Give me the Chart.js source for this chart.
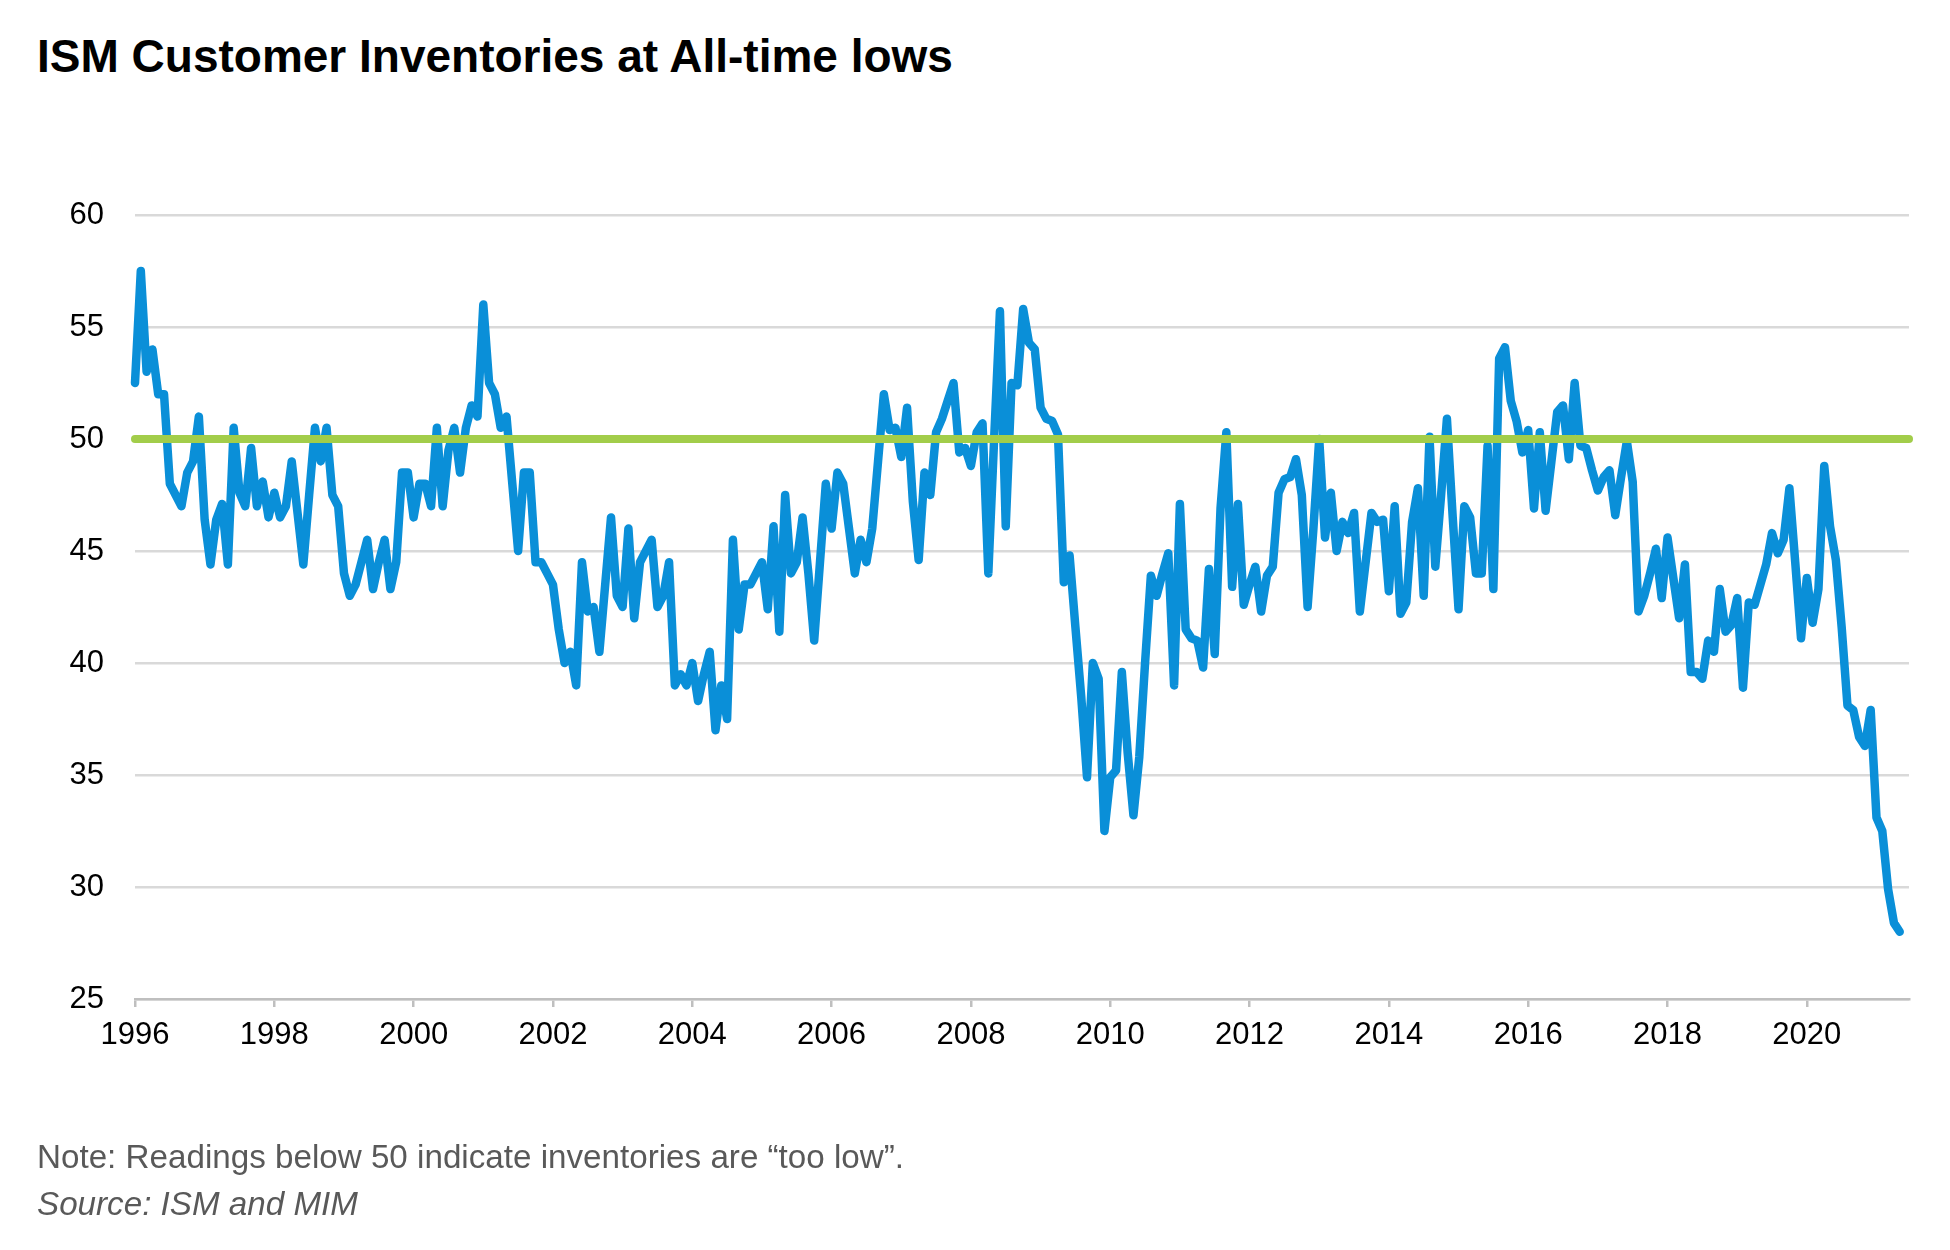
<!DOCTYPE html>
<html>
<head>
<meta charset="utf-8">
<script src="https://cdn.jsdelivr.net/npm/chart.js@4.4.1/dist/chart.umd.min.js"></script>
<style>
  body { margin: 0; background: #fff; width: 1950px; height: 1250px; position: relative; overflow: hidden;
         font-family: "Liberation Sans", Arial, sans-serif; }
  #title { position: absolute; left: 37px; top: 33px; font-size: 46px; line-height: 1; font-weight: bold; color: #000; }
  #note { position: absolute; left: 37px; top: 1140px; font-size: 33.2px; line-height: 1; color: #595959; }
  #source { position: absolute; left: 37px; top: 1187px; font-size: 33.2px; line-height: 1; color: #595959; font-style: italic; }
  canvas { position: absolute; left: 0; top: 0; }
</style>
</head>
<body>
<div id="title">ISM Customer Inventories at All-time lows</div>
<canvas id="myChart" width="1950" height="1250"></canvas>
<div id="note">Note: Readings below 50 indicate inventories are “too low”.</div>
<div id="source">Source: ISM and MIM</div>
<script>
// monthly ISM customers' inventories index, Jan 1996 .. May 2021
const customerInventories = [
  52.5, 57.5, 53, 54, 52, 52, 48, 47.5, 47, 48.5, 49, 51,            // 1996
  46.4, 44.4, 46.4, 47.1, 44.4, 50.5, 47.6, 47, 49.6, 47, 48.1, 46.5, // 1997
  47.6, 46.5, 47, 49, 46.7, 44.4, 47.5, 50.5, 49, 50.5, 47.5, 47,     // 1998
  44, 43, 43.5, 44.5, 45.5, 43.3, 44.5, 45.5, 43.3, 44.5, 48.5, 48.5, // 1999
  46.5, 48, 48, 47, 50.5, 47, 49.5, 50.5, 48.5, 50.5, 51.5, 51,       // 2000
  56, 52.5, 52, 50.5, 51, 48, 45, 48.5, 48.5, 44.5, 44.5, 44,         // 2001
  43.5, 41.5, 40, 40.5, 39, 44.5, 42.3, 42.5, 40.5, 43.5, 46.5, 43,   // 2002
  42.5, 46, 42, 44.5, 45, 45.5, 42.5, 43, 44.5, 39, 39.5, 39,         // 2003
  40, 38.3, 39.5, 40.5, 37, 39, 37.5, 45.5, 41.5, 43.5, 43.5, 44,     // 2004
  44.5, 42.4, 46.1, 41.4, 47.5, 44, 44.5, 46.5, 44, 41, 44.5, 48,     // 2005
  46, 48.5, 48, 46, 44, 45.5, 44.5, 46, 49, 52, 50.4, 50.5,           // 2006
  49.2, 51.4, 47.2, 44.6, 48.5, 47.5, 50.3, 50.9, 51.7, 52.5, 49.4, 49.6, // 2007
  48.8, 50.3, 50.7, 44, 50, 55.7, 46.1, 52.5, 52.4, 55.8, 54.3, 54,   // 2008
  51.4, 50.9, 50.8, 50.2, 43.6, 44.8, 41.6, 38.5, 34.9, 40, 39.3, 32.5, // 2009
  34.9, 35.2, 39.6, 36, 33.2, 35.8, 40, 43.9, 43, 44, 44.9, 39,       // 2010
  47.1, 41.5, 41.1, 41, 39.8, 44.2, 40.4, 46.9, 50.3, 43.4, 47.1, 42.6, // 2011
  43.5, 44.3, 42.3, 43.9, 44.3, 47.6, 48.2, 48.3, 49.1, 47.5, 42.5, 46, // 2012
  50, 45.6, 47.6, 45, 46.3, 45.8, 46.7, 42.3, 44.5, 46.7, 46.3, 46.4, // 2013
  43.2, 47, 42.2, 42.7, 46.3, 47.8, 43, 50.1, 44.3, 47.5, 50.9, 46.5, // 2014
  42.4, 47, 46.5, 44, 44, 49.7, 43.3, 53.6, 54.1, 51.7, 50.8, 49.4,   // 2015
  50.4, 46.9, 50.3, 46.8, 49, 51.2, 51.5, 49.1, 52.5, 49.7, 49.6, 48.6, // 2016
  47.7, 48.3, 48.6, 46.6, 48.3, 49.9, 48.1, 42.3, 43, 44, 45.1, 42.9, // 2017
  45.6, 43.8, 42, 44.4, 39.6, 39.6, 39.3, 41, 40.5, 43.3, 41.4, 41.7, // 2018
  42.9, 38.9, 42.7, 42.6, 43.5, 44.4, 45.8, 44.9, 45.5, 47.8, 44.5, 41.1, // 2019
  43.8, 41.8, 43.3, 48.8, 46.1, 44.6, 41.6, 38.1, 37.9, 36.7, 36.3, 37.9, // 2020
  33.1, 32.5, 29.9, 28.4, 28                                          // 2021
];

const yearLabels = ['1996', '1998', '2000', '2002', '2004', '2006', '2008', '2010', '2012', '2014', '2016', '2018', '2020'];
const threshold = 50;

const lastMonth = customerInventories.length - 1;
const xMax = lastMonth + 1.6;

const canvas = document.getElementById('myChart');
const ctx = canvas.getContext('2d');
const config = {
    type: 'line',
    data: {
        datasets: [{
            label: 'Threshold',
            data: [{ x: 0, y: threshold }, { x: xMax, y: threshold }],
            borderColor: '#A2CD4A',
            borderWidth: 8,
            borderCapStyle: 'round',
            pointRadius: 0,
            clip: false
        }, {
            label: 'Customer Inventories',
            data: customerInventories.map(function(v, i) { return { x: i, y: v }; }),
            borderColor: '#0A8FD8',
            borderWidth: 8.5,
            borderCapStyle: 'round',
            borderJoinStyle: 'round',
            tension: 0,
            pointRadius: 0,
            clip: false
        }]
    },
    options: {
        responsive: false,
        animation: false,
        devicePixelRatio: 1,
        layout: { padding: { left: 0, right: 41, top: 215, bottom: 171 } },
        plugins: { legend: { display: false }, tooltip: { enabled: false } },
        scales: {
            x: {
                type: 'linear',
                min: 0,
                max: xMax,
                afterBuildTicks: function(axis) {
                    axis.ticks = yearLabels.map(function(y, i) { return { value: i * 24 }; });
                },
                afterFit: function(axis) { axis.height = 80; },
                ticks: {
                    autoSkip: false,
                    maxRotation: 0,
                    padding: 10,
                    color: '#000',
                    font: { family: 'Liberation Sans', size: 31 },
                    callback: function(value, index) { return yearLabels[index]; }
                },
                grid: { drawOnChartArea: false, drawTicks: true, tickLength: 8, color: '#BFBFBF', lineWidth: 2.5 },
                border: { display: true, color: '#BFBFBF', width: 2.5 }
            },
            y: {
                min: 25,
                max: 60,
                afterFit: function(axis) { axis.width = 135; },
                ticks: {
                    stepSize: 5,
                    padding: 31,
                    color: '#000',
                    font: { family: 'Liberation Sans', size: 31 }
                },
                grid: { color: '#D9D9D9', lineWidth: 2.5, drawTicks: false },
                border: { display: false }
            }
        }
    }
};
const myChart = new Chart(ctx, config);
</script>
</body>
</html>
